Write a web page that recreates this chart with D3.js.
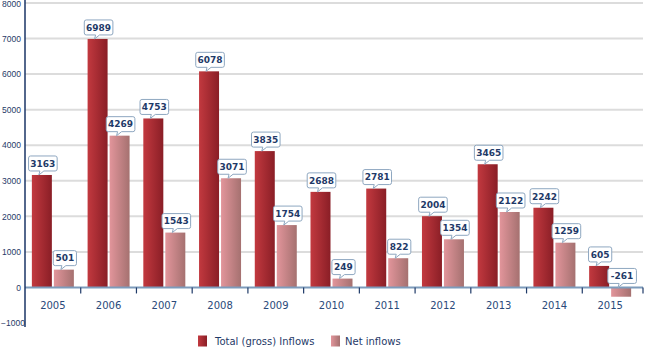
<!DOCTYPE html>
<html><head><meta charset="utf-8">
<script src="https://cdn.jsdelivr.net/npm/d3@7"></script>
<style>body{margin:0;background:#fff}svg{display:block;font-family:"DejaVu Sans",Verdana,sans-serif}</style>
</head><body><svg id="c" width="645" height="349"></svg>
<script>
const years = ["2005","2006","2007","2008","2009","2010","2011","2012","2013","2014","2015"];
const grossInflows = [3163,6989,4753,6078,3835,2688,2781,2004,3465,2242,605];
const netInflows = [501,4269,1543,3071,1754,249,822,1354,2122,1259,-261];
const yTicks = [-1000,0,1000,2000,3000,4000,5000,6000,7000,8000];
const seriesNames = ["Total (gross) Inflows","Net inflows"];

const svg = d3.select("#c");
const defs = svg.append("defs");
function grad(id, c1, c2){
  const g = defs.append("linearGradient").attr("id",id).attr("x1","0").attr("x2","1").attr("y1","0").attr("y2","0");
  g.append("stop").attr("offset","0").attr("stop-color",c1);
  g.append("stop").attr("offset","1").attr("stop-color",c2);
}
grad("gG","#c2393f","#8a1e26");
grad("gN","#e2959b","#a57170");
const fills = ["url(#gG)","url(#gN)"];

const x0 = 25, x1 = 638;
const x = d3.scaleBand().domain(years).range([x0,x1]).paddingInner(0).paddingOuter(0);
const y = d3.scaleLinear().domain([-1000,8000]).range([323,3]);
const barW = 20, gap = 2;

// grid
svg.append("g").selectAll("line").data(yTicks.filter(t=>t!==0 && t!==-1000)).join("line")
  .attr("x1",x0).attr("x2",643).attr("y1",d=>y(d)).attr("y2",d=>y(d))
  .attr("stroke","#dcdcdc").attr("stroke-width",2);

// y axis labels
const yAxis = d3.axisLeft(y).tickValues(yTicks).tickFormat(d3.format("d")).tickSize(0).tickPadding(4);
const ya = svg.append("g").attr("transform",`translate(${x0},0)`).call(yAxis);
ya.select(".domain").remove();
ya.selectAll("text").attr("fill","#1f3a68").attr("font-size","8.5px").attr("font-family","Liberation Sans, Arial, sans-serif");
ya.selectAll("text").filter(d=>d===8000).attr("dy","0.45em");
ya.selectAll("text").filter(d=>d===-1000).attr("text-anchor","start").attr("x",-x0+1);

// bars
const series = [grossInflows, netInflows];
series.forEach((vals,si)=>{
  svg.append("g").selectAll("rect").data(years).join("rect")
    .attr("x",(d)=>x(d)+(x.bandwidth()-2*barW-gap)/2+si*(barW+gap))
    .attr("width",barW)
    .attr("y",(d,i)=>y(Math.max(0,vals[i])))
    .attr("height",(d,i)=>Math.abs(y(vals[i])-y(0)))
    .attr("fill",fills[si]);
});

// x axis
const xAxis = d3.axisBottom(x).tickSize(0).tickPadding(14);
const xa = svg.append("g").attr("transform",`translate(0,${y(0)})`).call(xAxis);
xa.select(".domain").remove();
xa.selectAll("text").attr("fill","#2a4a7a").attr("font-size","10px").attr("font-family","DejaVu Sans, sans-serif");
svg.append("line").attr("x1",x0).attr("x2",643).attr("y1",y(0)).attr("y2",y(0)).attr("stroke","#7d9bbb").attr("stroke-width",2);
const bounds = years.slice(1).map(d=>x(d)).concat([643]);
svg.append("g").selectAll("line").data(bounds).join("line")
  .attr("x1",d=>d).attr("x2",d=>d).attr("y1",y(0)).attr("y2",y(0)+6)
  .attr("stroke","#1f3a68").attr("stroke-width",1.2);
// y axis line
svg.append("line").attr("x1",x0).attr("x2",x0).attr("y1",0).attr("y2",327).attr("stroke","#1a3566").attr("stroke-width",1.5);

// labels
series.forEach((vals,si)=>{
  years.forEach((yr,i)=>{
    const v = vals[i];
    const cx = x(yr)+(x.bandwidth()-2*barW-gap)/2+si*(barW+gap)+barW/2;
    const tipY = y(Math.max(0,v));
    const txt = String(v);
    const w = txt.length*5.4+7, h = 15;
    const bx = cx - w/2 + 1, by = tipY - 4 - h;
    const g = svg.append("g");
    const r = 2;
    const tx = cx - 2;
    const p = `M${bx+r},${by} H${bx+w-r} Q${bx+w},${by} ${bx+w},${by+r} V${by+h-r} Q${bx+w},${by+h} ${bx+w-r},${by+h} H${tx+4} L${tx-1},${tipY} L${tx},${by+h} H${bx+r} Q${bx},${by+h} ${bx},${by+h-r} V${by+r} Q${bx},${by} ${bx+r},${by} Z`;
    g.append("path").attr("d",p).attr("fill","#ffffff").attr("stroke","#8ea7c0").attr("stroke-width",1);
    g.append("text").attr("x",bx+w/2).attr("y",by+h/2+3.3).attr("text-anchor","middle")
      .attr("font-size","9px").attr("font-weight","bold").attr("fill","#1f3a68").text(txt);
  });
});

// legend
const leg = [{x:198,tx:215},{x:331,tx:345}];
seriesNames.forEach((n,i)=>{
  svg.append("rect").attr("x",leg[i].x).attr("y",335.5).attr("width",9).attr("height",11).attr("fill",fills[i]);
  svg.append("text").attr("x",leg[i].tx).attr("y",345).attr("font-size","10px").attr("fill","#1f3a68").text(n);
});
</script></body></html>
